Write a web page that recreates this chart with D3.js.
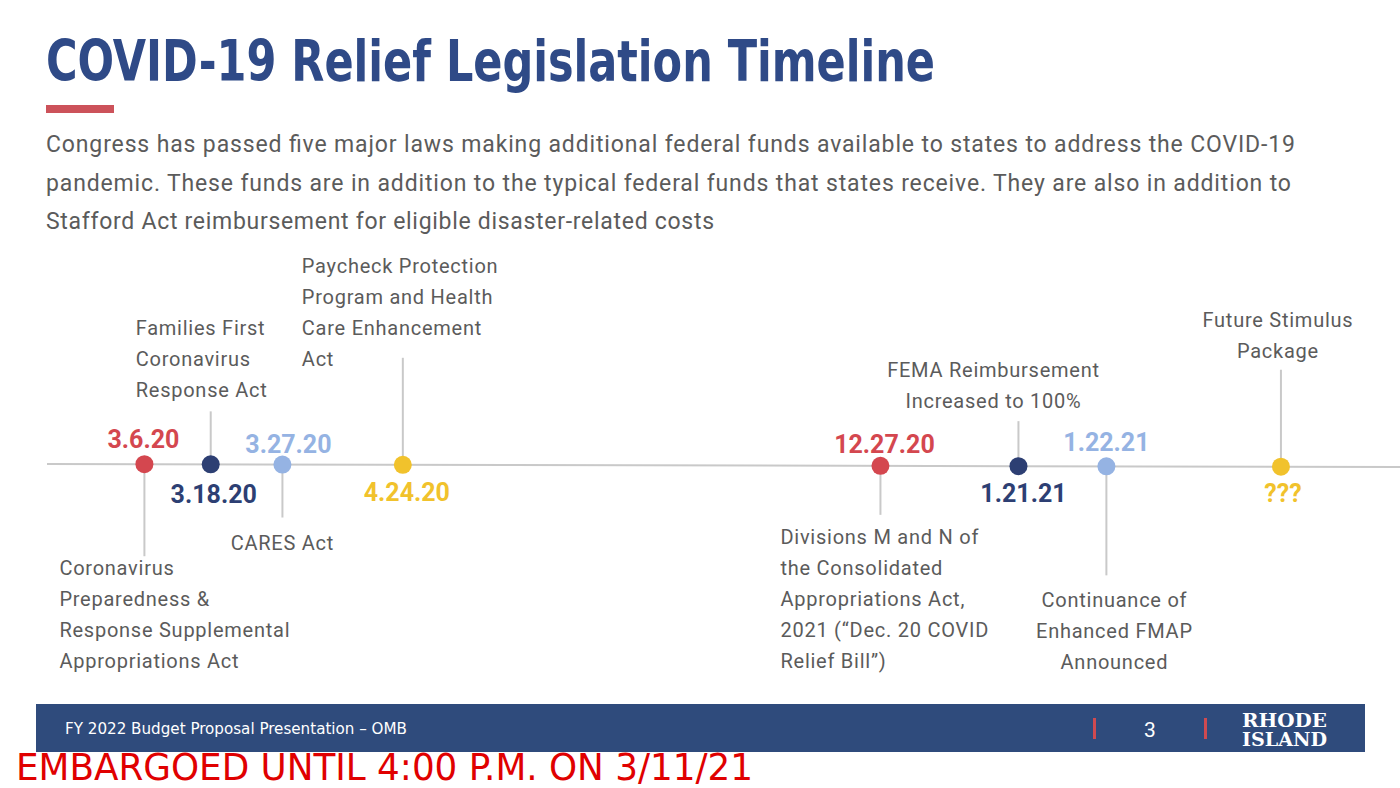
<!DOCTYPE html>
<html>
<head>
<meta charset="utf-8">
<script src="https://cdn.jsdelivr.net/npm/d3@7"></script>
<style>
  body { margin: 0; background: #fff; }
  svg { display: block; }
</style>
</head>
<body>
<script>
const width = 1400;
const height = 788;

// timeline data
const dates = ["3.6.20", "3.18.20", "3.27.20", "4.24.20", "12.27.20", "1.21.21", "1.22.21", "???"];
const eventNames = [
    ["Coronavirus", "Preparedness &", "Response Supplemental", "Appropriations Act"],
    ["Families First", "Coronavirus", "Response Act"],
    ["CARES Act"],
    ["Paycheck Protection", "Program and Health", "Care Enhancement", "Act"],
    ["Divisions M and N of", "the Consolidated", "Appropriations Act,", "2021 (\u201cDec. 20 COVID", "Relief Bill\u201d)"],
    ["FEMA Reimbursement", "Increased to 100%"],
    ["Continuance of", "Enhanced FMAP", "Announced"],
    ["Future Stimulus", "Package"]
];
// position along the drawn timeline, 0-100 (slide is not to time scale)
const eventSlot = [7.2, 12.1, 17.4, 26.3, 61.6, 71.8, 78.3, 91.2];
const eventGroup = ["a", "b", "c", "d", "a", "b", "c", "d"];

const titleText = "COVID-19 Relief Legislation Timeline";
const introLines = [
    "Congress has passed five major laws making additional federal funds available to states to address the COVID-19",
    "pandemic. These funds are in addition to the typical federal funds that states receive. They are also in addition to",
    "Stafford Act reimbursement for eligible disaster-related costs"
];
const introWidths = [1249, 1245, 668];
const footerText = "FY 2022 Budget Proposal Presentation \u2013 OMB";
const pageNumber = "3";
const embargoText = "EMBARGOED UNTIL 4:00 P.M. ON 3/11/21";

// layout per event: stem direction/length, label anchor and offsets, date offsets
const layout = [
    { stem: 92,  labelX: -85, labelY: 111, anchor: "start",  dateDx: -1, dateDy: -16 },
    { stem: -53, labelX: -75, labelY: -129, anchor: "start", dateDx: 3,  dateDy: 39 },
    { stem: 53,  labelX: 0,   labelY: 85,  anchor: "middle", dateDx: 6,  dateDy: -12 },
    { stem: -107, labelX: -101, labelY: -192, anchor: "start", dateDx: 4, dateDy: 36 },
    { stem: 49,  labelX: -100, labelY: 78, anchor: "start",  dateDx: 4,  dateDy: -13 },
    { stem: -45, labelX: -25, labelY: -89, anchor: "middle", dateDx: 5,  dateDy: 36 },
    { stem: 109, labelX: 8,   labelY: 141, anchor: "middle", dateDx: 0,  dateDy: -15 },
    { stem: -97, labelX: -3,  labelY: -140, anchor: "middle", dateDx: 2, dateDy: 35 }
];

const colour = d3.scaleOrdinal()
    .domain(["a", "b", "c", "d"])
    .range(["#d4474f", "#2d3f73", "#95b3e3", "#f1c22c"]);

const svg = d3.select("body").append("svg")
    .attr("width", width)
    .attr("height", height)
    .attr("viewBox", `0 0 ${width} ${height}`);

// Title block
svg.append("text")
    .attr("x", 46).attr("y", 81)
    .attr("font-family", "DejaVu Sans Condensed, DejaVu Sans, sans-serif")
    .attr("font-stretch", "condensed")
    .attr("font-weight", "bold")
    .attr("font-size", 57)
    .attr("textLength", 889)
    .attr("lengthAdjust", "spacingAndGlyphs")
    .attr("fill", "#2f4a87")
    .text(titleText);

svg.append("rect")
    .attr("x", 46).attr("y", 105)
    .attr("width", 68).attr("height", 8)
    .attr("fill", "#cc525a");

svg.append("g")
    .selectAll("text")
    .data(introLines)
    .join("text")
    .attr("x", 46)
    .attr("y", (d, i) => 152 + i * 38.5)
    .attr("font-family", "Roboto, sans-serif")
    .attr("font-size", 23)
    .attr("textLength", (d, i) => introWidths[i])
    .attr("lengthAdjust", "spacing")
    .attr("fill", "#5b5b5b")
    .text(d => d);

// Timeline
const x = d3.scaleLinear().domain([0, 100]).range([47, 1400]);
const lineY = d3.scaleLinear().domain([0, 100]).range([464, 467]);

svg.append("line")
    .attr("x1", x(0)).attr("y1", lineY(0))
    .attr("x2", x(100)).attr("y2", lineY(100))
    .attr("stroke", "#c9c9c9")
    .attr("stroke-width", 2);

const events = dates.map((d, i) => ({
    date: d,
    name: eventNames[i],
    slot: eventSlot[i],
    group: eventGroup[i],
    lay: layout[i]
}));

const ev = svg.append("g").selectAll("g")
    .data(events)
    .join("g")
    .attr("transform", d => `translate(${x(d.slot)},${lineY(d.slot)})`);

ev.append("line")
    .attr("x1", 0).attr("y1", 0)
    .attr("x2", 0).attr("y2", d => d.lay.stem)
    .attr("stroke", "#c9c9c9")
    .attr("stroke-width", 2);

ev.append("circle")
    .attr("r", 9)
    .attr("fill", d => colour(d.group));

ev.append("text")
    .attr("x", d => d.lay.dateDx)
    .attr("y", d => d.lay.dateDy)
    .attr("text-anchor", "middle")
    .attr("font-family", "Roboto, sans-serif")
    .attr("font-weight", "bold")
    .attr("font-size", 25)
    .attr("fill", d => colour(d.group))
    .text(d => d.date);

ev.append("text")
    .attr("text-anchor", d => d.lay.anchor)
    .attr("font-family", "Roboto, sans-serif")
    .attr("font-size", 20)
    .attr("letter-spacing", 0.75)
    .attr("fill", "#5b5b5b")
    .each(function (d) {
        d3.select(this).selectAll("tspan")
            .data(d.name)
            .join("tspan")
            .attr("x", d.lay.labelX)
            .attr("y", (s, i) => d.lay.labelY + i * 31)
            .text(s => s);
    });

// Footer bar
svg.append("rect")
    .attr("x", 36).attr("y", 704)
    .attr("width", 1329).attr("height", 48)
    .attr("fill", "#2f4b7c");

svg.append("text")
    .attr("x", 65).attr("y", 734)
    .attr("font-family", "DejaVu Sans Condensed, DejaVu Sans, sans-serif")
    .attr("font-stretch", "condensed")
    .attr("font-size", 15)
    .attr("textLength", 342)
    .attr("lengthAdjust", "spacingAndGlyphs")
    .attr("fill", "#ffffff")
    .text(footerText);

svg.append("g")
    .selectAll("rect")
    .data([1093, 1204])
    .join("rect")
    .attr("x", d => d).attr("y", 718)
    .attr("width", 3).attr("height", 21)
    .attr("fill", "#cf4a50");

svg.append("text")
    .attr("x", 1150).attr("y", 737)
    .attr("text-anchor", "middle")
    .attr("font-family", "Roboto, sans-serif")
    .attr("font-size", 21)
    .attr("fill", "#ffffff")
    .text(pageNumber);

svg.append("g")
    .selectAll("text")
    .data(["RHODE", "ISLAND"])
    .join("text")
    .attr("x", 1242)
    .attr("y", (d, i) => 727 + i * 19)
    .attr("font-family", "DejaVu Serif, serif")
    .attr("font-weight", "bold")
    .attr("font-size", 18)
    .attr("textLength", 85)
    .attr("lengthAdjust", "spacingAndGlyphs")
    .attr("fill", "#ffffff")
    .text(d => d);

// Embargo notice
svg.append("text")
    .attr("x", 16).attr("y", 780)
    .attr("font-family", "DejaVu Sans Condensed, DejaVu Sans, sans-serif")
    .attr("font-stretch", "condensed")
    .attr("font-size", 37)
    .attr("textLength", 737)
    .attr("lengthAdjust", "spacingAndGlyphs")
    .attr("fill", "#e00000")
    .text(embargoText);
</script>
</body>
</html>
